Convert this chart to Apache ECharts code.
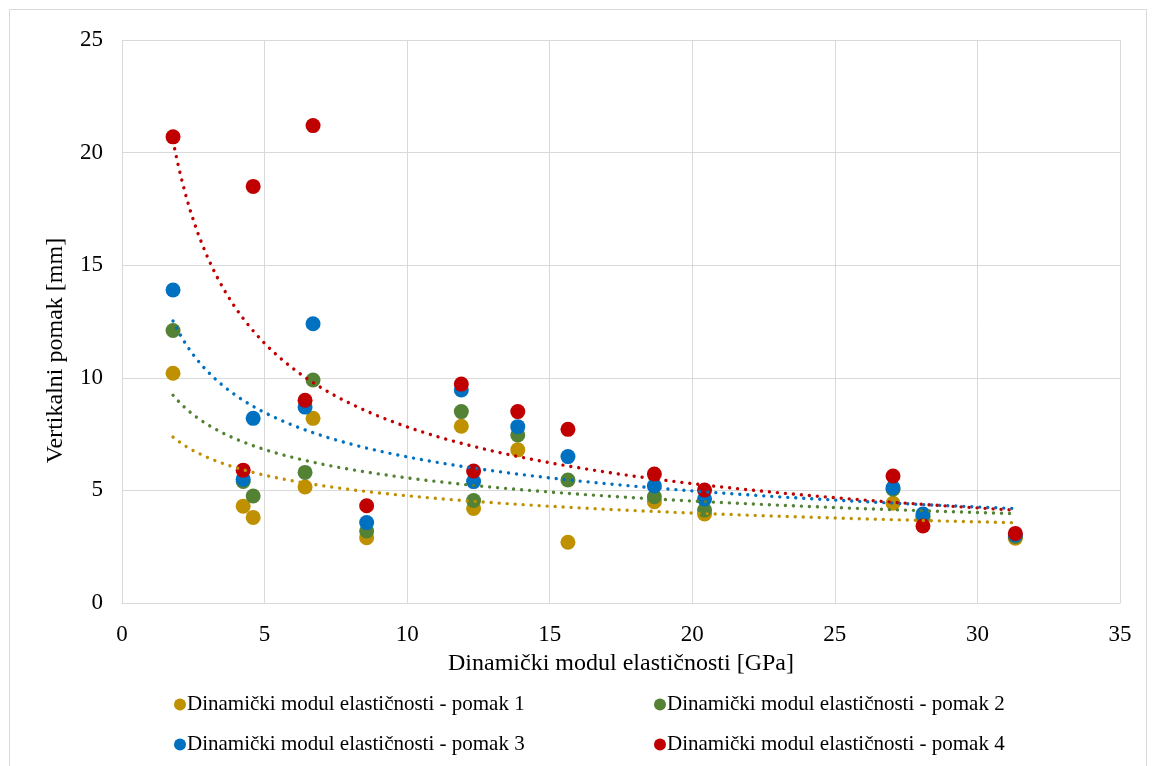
<!DOCTYPE html>
<html>
<head>
<meta charset="utf-8">
<script src="https://cdn.jsdelivr.net/npm/echarts@6/dist/echarts.min.js"></script>
<style>
  html, body { margin: 0; padding: 0; background: #fff; }
  #chart { width: 1156px; height: 766px; }
</style>
</head>
<body>
<div id="chart"></div>
<script>
// ---- data ----
const xValues = [1.79, 4.25, 4.6, 6.42, 6.7, 8.58, 11.9, 12.33, 13.88, 15.64, 18.67, 20.43, 27.04, 28.09, 31.33];
const pomak1 = [10.2, 4.3, 3.8, 5.15, 8.2, 2.9, 7.85, 4.2, 6.8, 2.7, 4.5, 3.95, 4.43, 3.75, 2.88];
const pomak2 = [12.1, 5.4, 4.75, 5.8, 9.9, 3.2, 8.5, 4.55, 7.46, 5.46, 4.72, 4.13, 5.05, 3.85, 2.95];
const pomak3 = [13.9, 5.5, 8.2, 8.7, 12.4, 3.57, 9.46, 5.39, 7.83, 6.5, 5.2, 4.62, 5.12, 3.95, 3.02];
const pomak4 = [20.7, 5.9, 18.5, 9.0, 21.2, 4.32, 9.72, 5.86, 8.5, 7.71, 5.73, 5.02, 5.64, 3.42, 3.09];
const seriesNames = [
  'Dinamički modul elastičnosti - pomak 1',
  'Dinamički modul elastičnosti - pomak 2',
  'Dinamički modul elastičnosti - pomak 3',
  'Dinamički modul elastičnosti - pomak 4'
];
const xTicks = [0, 5, 10, 15, 20, 25, 30, 35];
const yTicks = [0, 5, 10, 15, 20, 25];
const xTitle = 'Dinamički modul elastičnosti [GPa]';
const yTitle = 'Vertikalni pomak [mm]';
const colors = ['#BF9000', '#548235', '#0070C0', '#C00000'];

// ---- power trendline (least squares on ln y vs ln x), like Excel ----
function powerTrend(xs, ys, n) {
  const lx = xs.map(Math.log), ly = ys.map(Math.log);
  const mx = lx.reduce((a, b) => a + b, 0) / lx.length;
  const my = ly.reduce((a, b) => a + b, 0) / ly.length;
  let sxy = 0, sxx = 0;
  for (let i = 0; i < lx.length; i++) { sxy += (lx[i] - mx) * (ly[i] - my); sxx += (lx[i] - mx) ** 2; }
  const b = sxy / sxx, a = my - b * mx;
  const x0 = Math.min(...xs), x1 = Math.max(...xs);
  const pts = [];
  for (let i = 0; i <= n; i++) {
    const x = x0 + (x1 - x0) * i / n;
    pts.push([x, Math.exp(a + b * Math.log(x))]);
  }
  return pts;
}

const allY = [pomak1, pomak2, pomak3, pomak4];
const FONT = 'Liberation Serif';
const series = [];
allY.forEach((ys, i) => {
  series.push({
    name: seriesNames[i],
    type: 'scatter',
    symbol: 'circle',
    symbolSize: 15,
    itemStyle: { color: colors[i], opacity: 1 },
    data: xValues.map((x, k) => [x, ys[k]]),
    z: 3 + i
  });
});
allY.forEach((ys, i) => {
  series.push({
    name: 'trend' + (i + 1),
    type: 'line',
    showSymbol: false,
    symbol: 'none',
    silent: true,
    lineStyle: { color: colors[i], width: 3.4, type: [0.01, 8], cap: 'round' },
    data: powerTrend(xValues, ys, 200),
    z: 10
  });
});

const legendPos = [[169, 689], [649, 689], [169, 729], [649, 729]];
const legends = seriesNames.map((nm, i) => ({
  data: [nm],
  left: legendPos[i][0],
  top: legendPos[i][1],
  icon: 'circle',
  itemWidth: 12,
  itemHeight: 12,
  itemGap: 0,
  textStyle: { fontFamily: FONT, fontSize: 21, color: '#000', padding: [0, 0, 0, -4] },
  selectedMode: false
}));

const chart = echarts.init(document.getElementById('chart'));
chart.setOption({
  animation: false,
  backgroundColor: '#fff',
  graphic: [{
    type: 'rect',
    shape: { x: 9.5, y: 9.5, width: 1137, height: 800 },
    style: { fill: 'none', stroke: '#d9d9d9', lineWidth: 1 },
    silent: true
  }],
  grid: { left: 122, right: 36, top: 40, bottom: 163 },
  legend: legends,
  xAxis: {
    type: 'value',
    min: xTicks[0],
    max: xTicks[xTicks.length - 1],
    interval: xTicks[1] - xTicks[0],
    name: xTitle,
    nameLocation: 'middle',
    nameGap: 49,
    nameTextStyle: { fontFamily: FONT, fontSize: 24, color: '#000' },
    axisLine: { show: true, lineStyle: { color: '#d9d9d9', width: 1 } },
    axisTick: { show: false },
    axisLabel: { fontFamily: FONT, fontSize: 23, color: '#000', margin: 20 },
    splitLine: { show: true, lineStyle: { color: '#d9d9d9', width: 1 } }
  },
  yAxis: {
    type: 'value',
    min: yTicks[0],
    max: yTicks[yTicks.length - 1],
    interval: yTicks[1] - yTicks[0],
    name: yTitle,
    nameLocation: 'middle',
    nameGap: 54,
    nameTextStyle: { fontFamily: FONT, fontSize: 24, color: '#000', padding: [0, 58, 0, 0] },
    axisLine: { show: true, lineStyle: { color: '#d9d9d9', width: 1 } },
    axisTick: { show: false },
    axisLabel: { fontFamily: FONT, fontSize: 23, color: '#000', margin: 19 },
    splitLine: { show: true, lineStyle: { color: '#d9d9d9', width: 1 } }
  },
  series: series
});
</script>
</body>
</html>
